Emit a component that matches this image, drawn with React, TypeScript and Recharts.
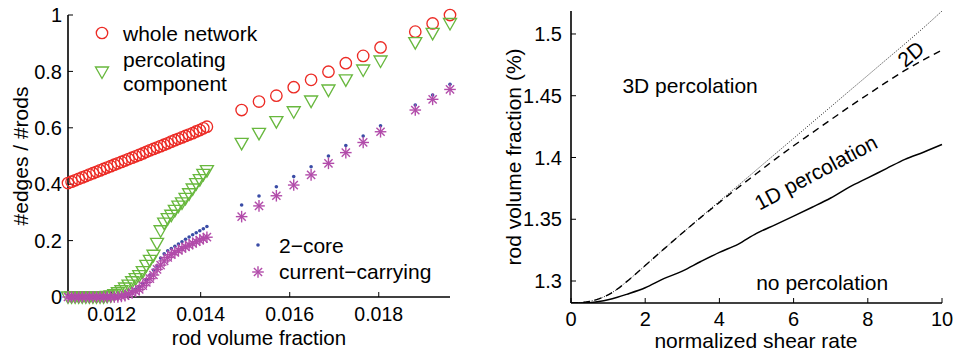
import React from 'react';
import { ScatterChart, Scatter, LineChart, Line, XAxis, YAxis, ReferenceDot } from 'recharts';

const FONT = '"Liberation Sans", Arial, Helvetica, sans-serif';

// ---------- left panel data ----------
const denseX = [0.01102, 0.0111, 0.01118, 0.01126, 0.01134, 0.01142, 0.0115, 0.01158, 0.01166, 0.01174,
  0.01182, 0.0119, 0.01198, 0.01206, 0.01214, 0.01222, 0.0123, 0.01238, 0.01246, 0.01254,
  0.01262, 0.0127, 0.01278, 0.01286, 0.01294, 0.01302, 0.0131, 0.01318, 0.01326, 0.01334,
  0.01342, 0.0135, 0.01358, 0.01366, 0.01374, 0.01382, 0.0139, 0.01398, 0.01406, 0.01414];
const wholeDense = [0.404, 0.409, 0.414, 0.419, 0.424, 0.429, 0.434, 0.439, 0.444, 0.449,
  0.454, 0.459, 0.464, 0.469, 0.474, 0.479, 0.484, 0.489, 0.494, 0.499,
  0.504, 0.509, 0.515, 0.52, 0.525, 0.53, 0.535, 0.54, 0.545, 0.551,
  0.556, 0.561, 0.566, 0.571, 0.576, 0.581, 0.587, 0.592, 0.598, 0.604];
const percDense = [0, 0, 0, 0, 0, 0, 0, 0, 0, 0,
  0, 0.002, 0.004, 0.008, 0.015, 0.022, 0.032, 0.042, 0.054, 0.065,
  0.076, 0.09, 0.112, 0.13, 0.148, 0.19, 0.235, 0.262, 0.278, 0.29,
  0.307, 0.322, 0.334, 0.35, 0.366, 0.383, 0.402, 0.416, 0.435, 0.448];
const coreDense = [0, 0, 0, 0, 0, 0, 0, 0, 0, 0,
  0, 0, 0, 0, 0, 0.003, 0.007, 0.012, 0.02, 0.028,
  0.036, 0.048, 0.062, 0.078, 0.096, 0.11, 0.138, 0.153, 0.164, 0.172,
  0.18, 0.188, 0.196, 0.205, 0.213, 0.221, 0.228, 0.235, 0.242, 0.25];
const currDense = [0, 0, 0, 0, 0, 0, 0, 0, 0, 0,
  0, 0, 0, 0, 0, 0.002, 0.005, 0.01, 0.015, 0.021,
  0.027, 0.04, 0.052, 0.065, 0.078, 0.098, 0.113, 0.128, 0.14, 0.15,
  0.158, 0.165, 0.172, 0.178, 0.184, 0.19, 0.196, 0.202, 0.207, 0.212];

const sparseX = [0.01492, 0.01531, 0.0157, 0.01609, 0.01648, 0.01687, 0.01726, 0.01765, 0.01804, 0.01882, 0.01921, 0.0196];
const wholeSparse = [0.663, 0.693, 0.714, 0.744, 0.77, 0.799, 0.829, 0.855, 0.885, 0.941, 0.97, 1.0];
const percSparse = [0.545, 0.58, 0.622, 0.657, 0.695, 0.734, 0.77, 0.805, 0.837, 0.902, 0.935, 0.97];
const coreSparse = [0.326, 0.358, 0.391, 0.427, 0.462, 0.5, 0.537, 0.571, 0.607, 0.681, 0.716, 0.754];
const currSparse = [0.285, 0.323, 0.359, 0.397, 0.433, 0.474, 0.512, 0.548, 0.586, 0.663, 0.701, 0.736];

const leftTicksX = [0.012, 0.014, 0.016, 0.018];
const leftTicksY = [0, 0.2, 0.4, 0.6, 0.8, 1];

// ---------- right panel data ----------
const shearX = [0, 0.25, 0.5, 0.75, 1, 1.25, 1.5, 2, 2.5, 3, 3.5, 4, 4.5, 5, 5.5, 6, 6.5, 7, 7.5, 8, 8.5, 9, 9.5, 10];
const boundary3D = [1.2822, 1.2825, 1.2835, 1.2856, 1.2888, 1.2935, 1.2995, 1.3125, 1.3258, 1.3388, 1.3518, 1.3645,
  1.3772, 1.39, 1.4028, 1.4155, 1.4283, 1.441, 1.4538, 1.4665, 1.4793, 1.492, 1.505, 1.5186];
const boundary2D = [1.2822, 1.2825, 1.2835, 1.2856, 1.2888, 1.2935, 1.2995, 1.3125, 1.3258, 1.3388, 1.3515, 1.3636,
  1.3755, 1.387, 1.3985, 1.4095, 1.42, 1.4305, 1.441, 1.451, 1.461, 1.4705, 1.479, 1.487];
const boundary1D = [1.2822, 1.2822, 1.2825, 1.2834, 1.2848, 1.2868, 1.2892, 1.2945, 1.3019, 1.308, 1.3158, 1.3232,
  1.3297, 1.3386, 1.3455, 1.3525, 1.3597, 1.3672, 1.376, 1.3835, 1.391, 1.3985, 1.4043, 1.4105];

const rightTicksX = [0, 2, 4, 6, 8, 10];
const rightTicksY = [1.3, 1.35, 1.4, 1.45, 1.5];

const zip = (xs: number[], ys: number[]) => xs.map((x, i) => ({ x, y: ys[i] }));
const wholeData = zip([...denseX, ...sparseX], [...wholeDense, ...wholeSparse]);
const percData = zip([...denseX, ...sparseX], [...percDense, ...percSparse]);
const coreData = zip([...denseX, ...sparseX], [...coreDense, ...coreSparse]);
const currData = zip([...denseX, ...sparseX], [...currDense, ...currSparse]);
const rightData = shearX.map((x, i) => ({ x, d3: boundary3D[i], d2: boundary2D[i], d1: boundary1D[i] }));

const RED = '#ec2b25';
const GREEN = '#68b83e';
const BLUE = '#3a4ca6';
const PURPLE = '#b24caa';

const Circle = (p: any) => <circle cx={p.cx} cy={p.cy} r={5.7} fill="none" stroke={RED} strokeWidth={1.35} />;
const Tri = (p: any) => (
  <path d={`M${p.cx - 6.5},${p.cy - 5} L${p.cx + 6.5},${p.cy - 5} L${p.cx},${p.cy + 6.5} Z`} fill="none" stroke={GREEN} strokeWidth={1.35} />
);
const Dot = (p: any) => <circle cx={p.cx} cy={p.cy} r={1.8} fill={BLUE} />;
const Star = (p: any) => {
  const r = 5.8, d = 4.1;
  return (
    <g stroke={PURPLE} strokeWidth={1.4}>
      <line x1={p.cx - r} y1={p.cy} x2={p.cx + r} y2={p.cy} />
      <line x1={p.cx} y1={p.cy - r} x2={p.cx} y2={p.cy + r} />
      <line x1={p.cx - d} y1={p.cy - d} x2={p.cx + d} y2={p.cy + d} />
      <line x1={p.cx - d} y1={p.cy + d} x2={p.cx + d} y2={p.cy - d} />
    </g>
  );
};

const axisLine = { stroke: '#000', strokeWidth: 1.6 };
const tickLine = { stroke: '#000', strokeWidth: 1 };
const tickStyle = { fontSize: 20, fill: '#000', fontFamily: FONT };
const leftXTickStyle = { fontSize: 19.5, fill: '#000', fontFamily: FONT };
const noTick = () => <g />;
const annot = { position: 'center' as const, fontSize: 21, fill: '#000', fontFamily: FONT };

export default function App() {
  return (
    <div style={{ position: 'absolute', left: 0, top: 0, width: 953, height: 351, background: '#fff', fontFamily: FONT }}>
      <div style={{ position: 'absolute', left: 0, top: 0 }}>
        <ScatterChart width={470} height={351} margin={{ top: 15, right: 20, bottom: 0, left: 0 }}>
          <XAxis xAxisId="b" dataKey="x" type="number" domain={[0.01102, 0.0196]} ticks={leftTicksX}
            tickFormatter={(v: number) => v.toFixed(3)} height={54} tickSize={-5} tickMargin={15}
            axisLine={axisLine} tickLine={tickLine} tick={leftXTickStyle} />
          <XAxis xAxisId="t" dataKey="x" orientation="top" type="number" domain={[0.01102, 0.0196]} ticks={leftTicksX}
            height={0} tickSize={-5} axisLine={axisLine} tickLine={tickLine} tick={noTick} />
          <YAxis yAxisId="l" dataKey="y" type="number" domain={[0, 1]} ticks={leftTicksY} width={68}
            tickSize={-5} tickMargin={11} axisLine={axisLine} tickLine={tickLine} tick={tickStyle} />
          <YAxis yAxisId="r" dataKey="y" orientation="right" type="number" domain={[0, 1]} ticks={leftTicksY} width={0}
            tickSize={-5} axisLine={axisLine} tickLine={tickLine} tick={noTick} />
          <Scatter data={wholeData} xAxisId="b" yAxisId="l" shape={Circle} isAnimationActive={false} />
          <Scatter data={percData} xAxisId="b" yAxisId="l" shape={Tri} isAnimationActive={false} />
          <Scatter data={coreData} xAxisId="b" yAxisId="l" shape={Dot} isAnimationActive={false} />
          <Scatter data={currData} xAxisId="b" yAxisId="l" shape={Star} isAnimationActive={false} />
        </ScatterChart>
      </div>
      <div style={{ position: 'absolute', left: 470, top: 0 }}>
        <LineChart width={483} height={351} data={rightData} margin={{ top: 11, right: 11, bottom: 0, left: 0 }}>
          <XAxis xAxisId="b" dataKey="x" type="number" domain={[0, 10]} ticks={rightTicksX} height={48}
            tickSize={-5} tickMargin={14} axisLine={axisLine} tickLine={tickLine} tick={tickStyle} />
          <XAxis xAxisId="t" dataKey="x" orientation="top" type="number" domain={[0, 10]} ticks={rightTicksX} height={0}
            tickSize={-5} axisLine={axisLine} tickLine={tickLine} tick={noTick} />
          <YAxis yAxisId="l" type="number" domain={[1.2822, 1.5186]} ticks={rightTicksY} width={101}
            tickSize={-5} tickMargin={14} axisLine={axisLine} tickLine={tickLine} tick={tickStyle} allowDataOverflow />
          <YAxis yAxisId="r" orientation="right" type="number" domain={[1.2822, 1.5186]} ticks={rightTicksY} width={0}
            tickSize={-5} axisLine={axisLine} tickLine={tickLine} tick={noTick} allowDataOverflow />
          <Line xAxisId="b" yAxisId="l" dataKey="d3" type="monotone" stroke="#000" strokeWidth={0.9} strokeDasharray="1 1.6"
            dot={false} isAnimationActive={false} />
          <Line xAxisId="b" yAxisId="l" dataKey="d2" type="monotone" stroke="#000" strokeWidth={1.4} strokeDasharray="7 5"
            dot={false} isAnimationActive={false} />
          <Line xAxisId="b" yAxisId="l" dataKey="d1" type="monotone" stroke="#000" strokeWidth={1.5}
            dot={false} isAnimationActive={false} />
          <ReferenceDot xAxisId="b" yAxisId="l" x={3.21} y={1.458} r={0} fill="none" stroke="none"
            label={{ value: '3D percolation', ...annot }} />
          <ReferenceDot xAxisId="b" yAxisId="l" x={6.77} y={1.2984} r={0} fill="none" stroke="none"
            label={{ value: 'no percolation', ...annot }} />
          <ReferenceDot xAxisId="b" yAxisId="l" x={6.6} y={1.388} r={0} fill="none" stroke="none"
            label={{ value: '1D percolation', angle: -28, ...annot }} />
          <ReferenceDot xAxisId="b" yAxisId="l" x={9.16} y={1.4838} r={0} fill="none" stroke="none"
            label={{ value: '2D', angle: -40, ...annot }} />
        </LineChart>
      </div>
      <svg width={953} height={351} style={{ position: 'absolute', left: 0, top: 0, pointerEvents: 'none' }}
        fontFamily={FONT} fontSize={21} fill="#000">
        <text x={259} y={345} fontSize={20.5} textAnchor="middle">rod volume fraction</text>
        <text transform="translate(28,156) rotate(-90)" textAnchor="middle">#edges / #rods</text>
        <text x={756} y={348} textAnchor="middle">normalized shear rate</text>
        <text transform="translate(521,157) rotate(-90)" textAnchor="middle">rod volume fraction (%)</text>
        <Circle cx={102} cy={33} />
        <text x={123} y={41}>whole network</text>
        <Tri cx={102} cy={72} />
        <text x={123} y={67}>percolating</text>
        <text x={123} y={91}>component</text>
        <Dot cx={258} cy={245} />
        <text x={279} y={253}>2−core</text>
        <Star cx={258} cy={272} />
        <text x={279} y={279}>current−carrying</text>
      </svg>
    </div>
  );
}
